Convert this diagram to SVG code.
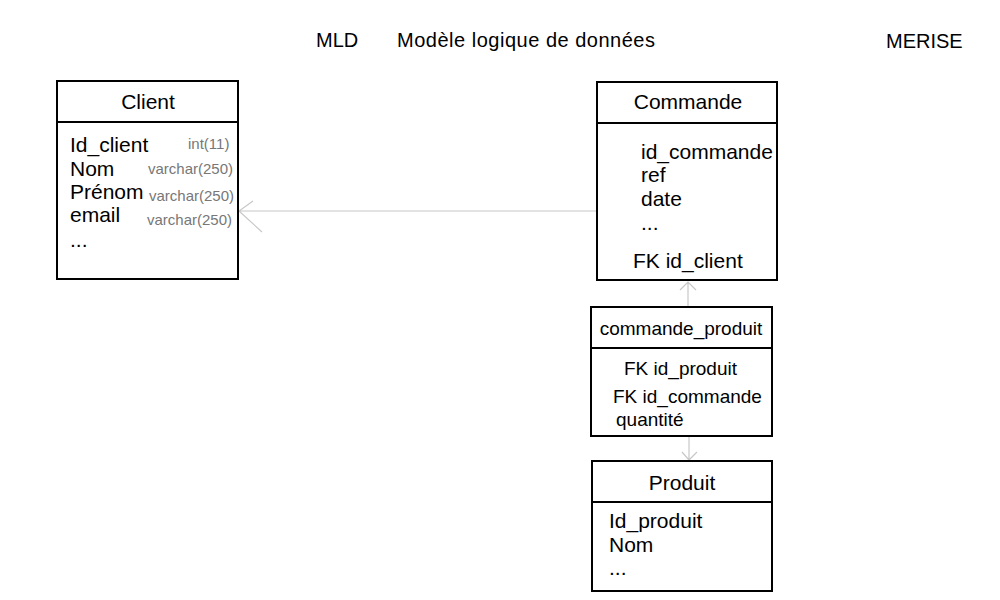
<svg xmlns="http://www.w3.org/2000/svg" width="1000" height="600" viewBox="0 0 1000 600">
<style>
.box{fill:#fff;stroke:#000;stroke-width:2}
.div{stroke:#000;stroke-width:2}
text{font-family:"Liberation Sans",Arial,sans-serif;fill:#000}
.h{font-size:20px}
.t{font-size:21px}
.s{font-size:19px}
.ty{font-size:15px;fill:#777}
.c{fill:none;stroke:#c8c8c8;stroke-width:1.2}
</style>
<rect width="1000" height="600" fill="#fff"/>
<g id="titles">
<text class="h" x="316" y="47">MLD</text>
<text class="h" x="397" y="47" textLength="258" lengthAdjust="spacing">Modèle logique de données</text>
<text class="h" x="886" y="48">MERISE</text>
</g>
<g id="connectors">
<path class="c" d="M597,211 H239 M253,201 L239,211 L262,232"/>
<path class="c" d="M688,307 V282 M680,290 L688,282 L696,290"/>
<path class="c" d="M689,436 V460 M682,452 L689,460 L697,452"/>
</g>
<g id="client">
<rect class="box" x="57" y="81" width="181" height="198"/>
<line class="div" x1="57" y1="122" x2="238" y2="122"/>
<text class="t" x="148" y="109" text-anchor="middle">Client</text>
<text class="t" x="70" y="152">Id_client</text>
<text class="t" x="70" y="176">Nom</text>
<text class="t" x="70" y="199">Prénom</text>
<text class="t" x="70" y="222">email</text>
<text class="t" x="70" y="247">...</text>
<text class="ty" x="188" y="149">int(11)</text>
<text class="ty" x="148" y="174">varchar(250)</text>
<text class="ty" x="149" y="201">varchar(250)</text>
<text class="ty" x="147" y="225">varchar(250)</text>
</g>
<g id="commande">
<rect class="box" x="597" y="82" width="180" height="198"/>
<line class="div" x1="597" y1="123" x2="777" y2="123"/>
<text class="t" x="688" y="109" text-anchor="middle">Commande</text>
<text class="t" x="641" y="159">id_commande</text>
<text class="t" x="641" y="182">ref</text>
<text class="t" x="641" y="206">date</text>
<text class="t" x="641" y="230">...</text>
<text class="t" x="633" y="268">FK id_client</text>
</g>
<g id="commande_produit">
<rect class="box" x="591" y="307" width="181" height="129"/>
<line class="div" x1="591" y1="348" x2="772" y2="348"/>
<text class="s" x="681" y="335" text-anchor="middle">commande_produit</text>
<text class="s" x="624" y="375">FK id_produit</text>
<text class="s" x="613" y="403">FK id_commande</text>
<text class="s" x="616" y="426">quantité</text>
</g>
<g id="produit">
<rect class="box" x="592" y="461" width="180" height="130"/>
<line class="div" x1="592" y1="502" x2="772" y2="502"/>
<text class="t" x="682" y="490" text-anchor="middle">Produit</text>
<text class="t" x="609" y="528">Id_produit</text>
<text class="t" x="609" y="552">Nom</text>
<text class="t" x="609" y="575">...</text>
</g>
</svg>
